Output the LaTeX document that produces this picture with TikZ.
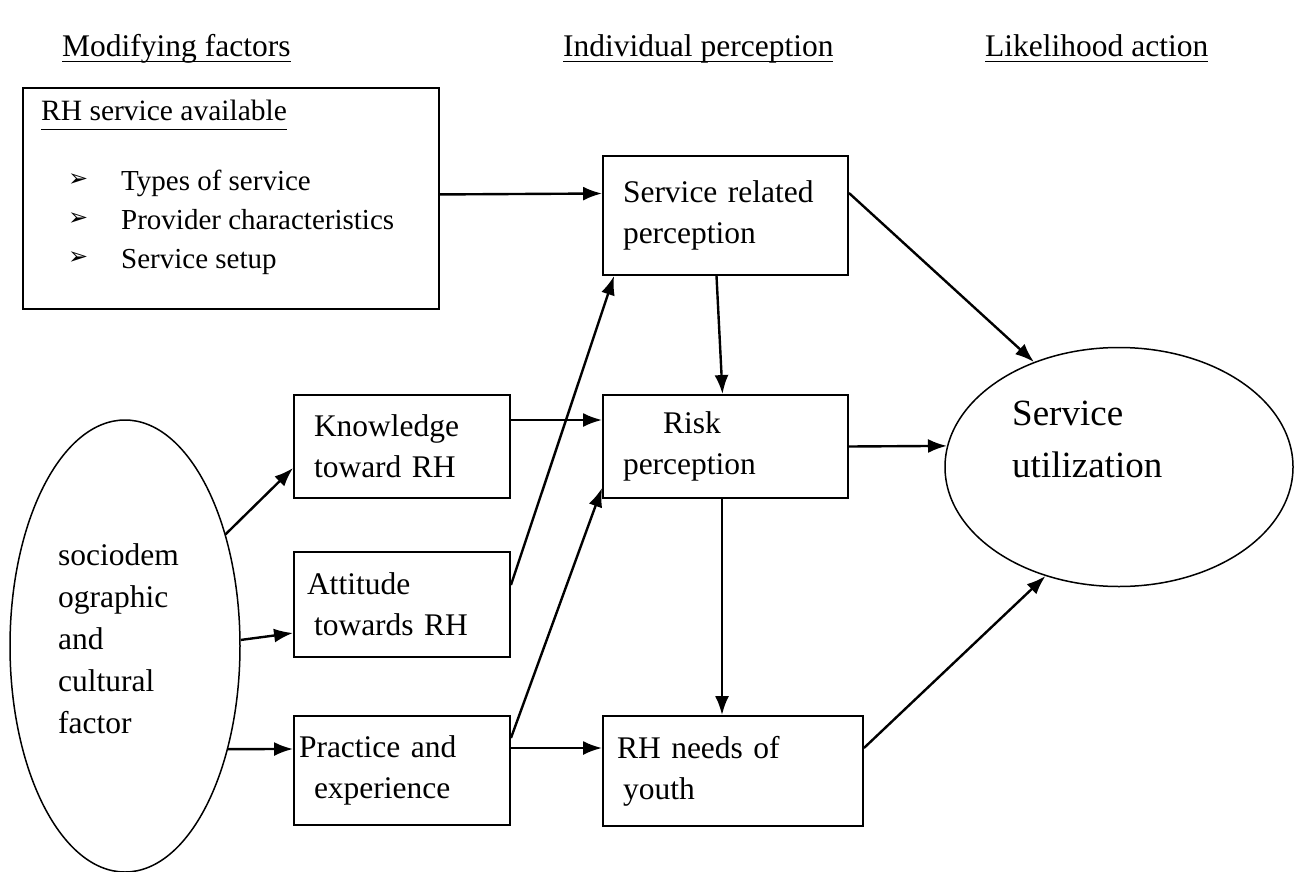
\documentclass[tikz,border=0pt]{standalone}
\usepackage{fontspec}
\setmainfont{Liberation Serif}
\newfontfamily\dingfont{DejaVu Sans}
\usetikzlibrary{arrows.meta,shapes.geometric}
\newcommand{\ulinetext}[2][6pt]{\leavevmode\setbox0=\hbox{#2}\rlap{\rule[-#1]{\wd0}{1.4pt}}\box0}

\begin{document}
\begin{tikzpicture}[x=1pt,y=-1pt,>={Latex[length=19pt,width=14pt]},
    factorbox/.style={draw,line width=1.9pt,rectangle,inner xsep=20pt,inner ysep=0pt,
      align=left,font=\fontsize{31.5}{41}\selectfont},
    oval/.style={draw,ellipse,line width=1.5pt,inner sep=0pt},
    link/.style={->,line width=2.4pt},
    heading/.style={anchor=base west,inner sep=0pt,font=\fontsize{31.5}{38}\selectfont}]
    \useasboundingbox (0,0) rectangle (1300,872);
    % column headings
    \node[heading] (hmod) at (62,57) {\ulinetext[5pt]{Modifying factors}};
    \node[heading] (hind) at (563,57) {\ulinetext[5pt]{Individual perception}};
    \node[heading] (hlik) at (985,57) {\ulinetext[5pt]{Likelihood action}};
    % services available
    \node[draw,line width=1.9pt,anchor=north west,inner sep=0pt,
      minimum width=416pt,minimum height=221pt] (avail) at (22,87) {};
    \node[anchor=base west,inner sep=0pt,font=\fontsize{29.5}{39}\selectfont] (availtitle)
      at (41,121) {\ulinetext[9pt]{RH service available}};
    \foreach \txt [count=\i] in {Types of service,Provider characteristics,Service setup}{
      \node[anchor=base west,inner sep=0pt,font=\dingfont\fontsize{24}{26}\selectfont]
        (bullet\i) at (68,151+39*\i) {\raisebox{4pt}{➢}};
      \node[anchor=base west,inner sep=0pt,font=\fontsize{29}{39}\selectfont]
        (item\i) at (121,151+39*\i) {\txt};
    }
    % sociodemographic ellipse
    \node[oval,minimum width=230pt,minimum height=452pt] (socio) at (125,646) {};
    \node[anchor=base west,align=left,inner sep=0pt,font=\fontsize{31.5}{42}\selectfont]
      (sociotext) at (58,733) {sociodem\\ographic\\and\\cultural\\factor};
    % modifying boxes
    \node[factorbox,text width=176pt,minimum height=103pt] (know) at (402,446.5)
      {Knowledge\\toward RH};
    \node[factorbox,text width=176pt,minimum height=105pt] (att) at (402,604.5)
      {\hspace*{-7pt}Attitude\\towards RH};
    \node[factorbox,text width=176pt,minimum height=109pt] (prac) at (402,770.5)
      {\hspace*{-15pt}Practice and\\experience};
    % perception boxes
    \node[factorbox,text width=205pt,minimum height=119pt] (svc) at (725.5,215.5)
      {Service related\\perception};
    \node[factorbox,text width=205pt,minimum height=103pt] (risk) at (725.5,446.5)
      {\hspace*{40pt}Risk\\perception};
    \node[factorbox,text width=220pt,minimum height=110pt] (needs) at (733,771)
      {\hspace*{-6pt}RH needs of\\youth};
    % outcome
    \node[oval,minimum width=348pt,minimum height=239pt] (util) at (1119,467) {};
    \node[anchor=base west,align=left,inner sep=0pt,font=\fontsize{37}{52}\selectfont]
      (utiltext) at (1012,477) {Service\\utilization};
    % arrows
    \draw[link] ([yshift=4pt]avail.east) -- ([yshift=22pt]svc.west);
    \draw[link] ([xshift=-9pt]svc.south) -- ([xshift=-3pt]risk.north);
    \draw[link] ([yshift=22.5pt]svc.east) -- (util.129);
    \draw[link] (risk.east) -- (util.173);
    \draw[link] ([yshift=26.5pt]know.east) -- ([yshift=26.5pt]risk.west);
    \draw[link] ([yshift=19.5pt]att.east) -- ([xshift=12pt]svc.south west);
    \draw[link] ([yshift=32.5pt]prac.east) -- ([yshift=11pt]risk.south west);
    \draw[link] ([yshift=22.5pt]prac.east) -- ([yshift=23pt]needs.west);
    \draw[link] ([xshift=-3.5pt]risk.south) -- ([xshift=-11pt]needs.north);
    \draw[link] ([yshift=23pt]needs.east) -- (util.236);
    \draw[link] (socio.48) -- ([yshift=-21.5pt]know.west);
    \draw[link] (socio.3) -- ([yshift=-28.5pt]att.west);
    \draw[link] (socio.-45) -- ([yshift=21.5pt]prac.west);
\end{tikzpicture}
\end{document}
